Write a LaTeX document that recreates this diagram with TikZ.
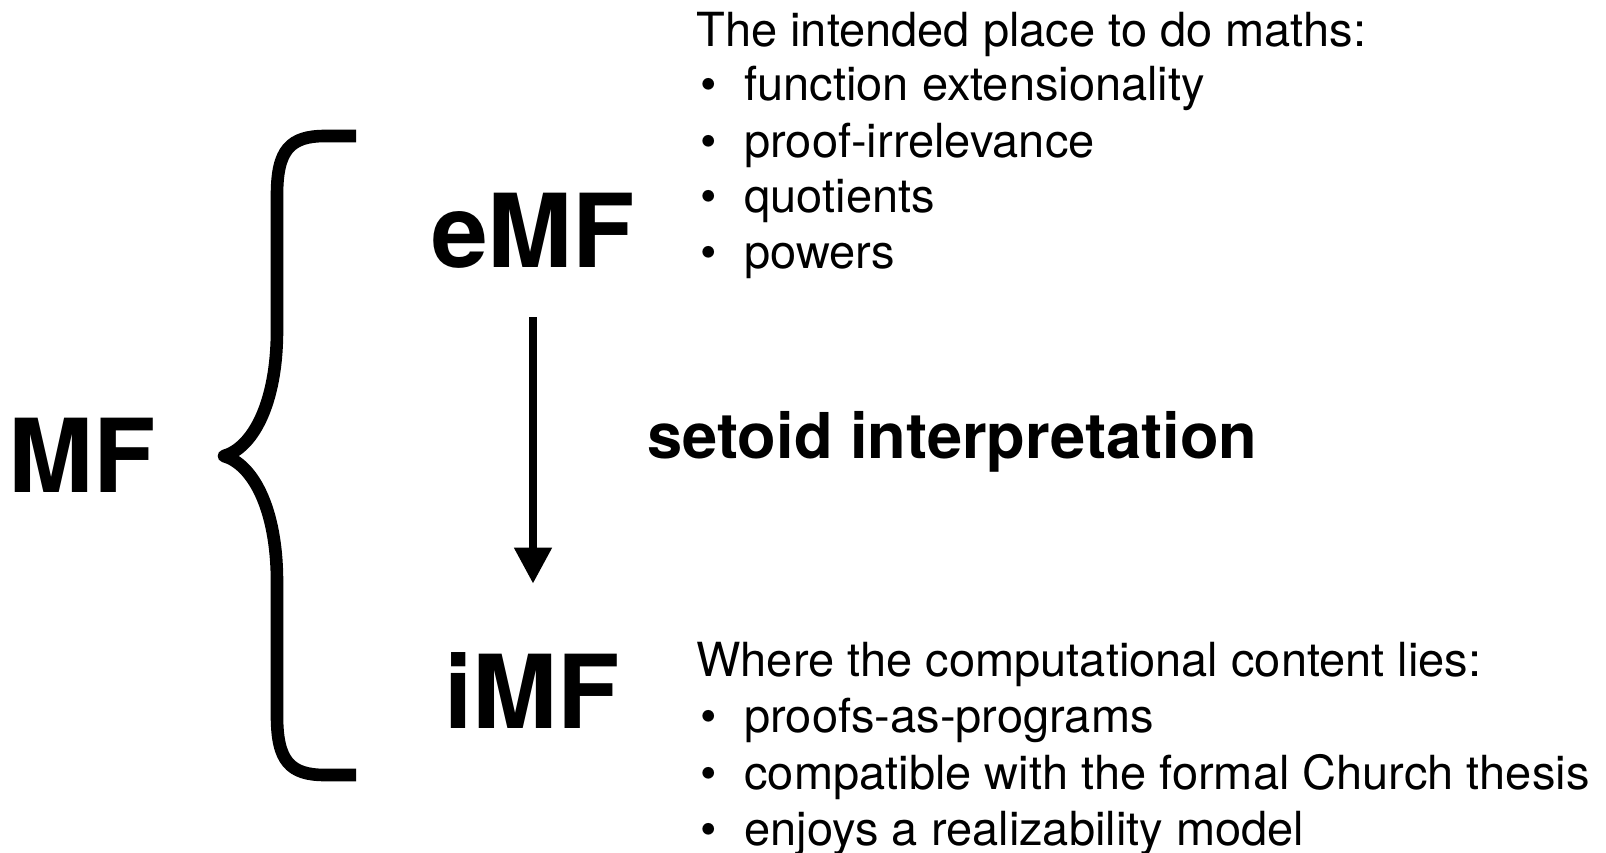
\documentclass[tikz,border=0pt]{standalone}
\usepackage{fontspec}
\setmainfont{TeX Gyre Heros}
\usetikzlibrary{arrows.meta}

\tikzset{
    bigname/.style={inner sep=0pt, anchor=base, font=\bfseries\fontsize{51}{56}\selectfont},
    midname/.style={inner sep=0pt, anchor=base west, font=\bfseries\fontsize{31.6}{36}\selectfont},
    listline/.style={inner sep=0pt, anchor=base west, font=\fontsize{23.5}{28}\selectfont},
}
\newcommand{\bul}{\makebox[22pt][l]{\textbullet}}

\begin{document}
\begin{tikzpicture}[x=0.5pt, y=-0.5pt]
    \useasboundingbox (0,0) rectangle (1606,852);

    % Label the theories
    \node[bigname] (MF) at (82,492) {MF};
    \node[bigname] (eMF) at (533,267) {eMF};
    \node[bigname] (iMF) at (532,728) {iMF};
    \node[midname] (setoid) at (647,458) {setoid interpretation};

    % Draw the brace
    \draw[line width=6.3pt, line join=round]
        (356,136) -- (325,136) .. controls (290,136) and (277,150) .. (277,195)
        -- (277,330) .. controls (277,405) and (252,448) .. (224,456)
        .. controls (252,464) and (277,507) .. (277,582)
        -- (277,716) .. controls (277,761) and (290,775) .. (325,775) -- (356,775);

    % Draw the arrow
    \draw[line width=4pt, -{Triangle[width=18pt,length=18pt]},
          shorten <=24.5pt, shorten >=34pt] (eMF.south) -- (eMF.south |- iMF.north);

    % Top list
    \node[listline] (e0) at (696,46) {The intended place to do maths:};
    \node[listline] (e1) at (700,100) {\bul function extensionality};
    \node[listline] (e2) at (700,157) {\bul proof-irrelevance};
    \node[listline] (e3) at (700,212) {\bul quotients};
    \node[listline] (e4) at (700,268) {\bul powers};

    % Bottom list
    \node[listline] (i0) at (696,676) {Where the computational content lies:};
    \node[listline] (i1) at (700,732) {\bul proofs-as-programs};
    \node[listline] (i2) at (700,789) {\bul compatible with the formal Church thesis};
    \node[listline] (i3) at (700,845) {\bul enjoys a realizability model};
\end{tikzpicture}
\end{document}
